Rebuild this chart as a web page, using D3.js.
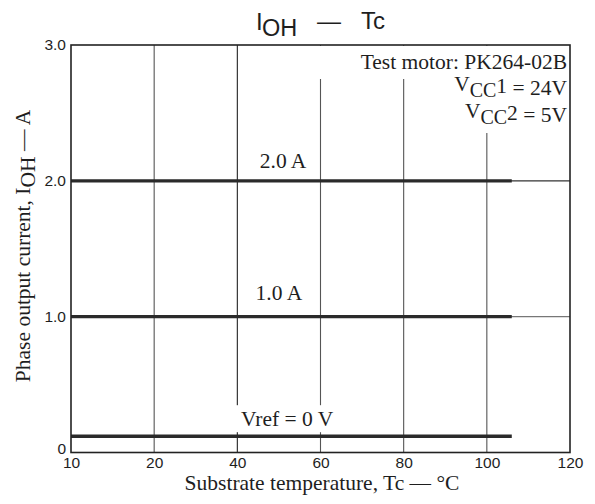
<!DOCTYPE html>
<html>
<head>
<meta charset="utf-8">
<script src="https://cdn.jsdelivr.net/npm/d3@7"></script>
<style>
  html, body { margin: 0; padding: 0; background: #fff; }
  svg { display: block; }
</style>
</head>
<body>
<div id="chart"></div>
<script>
// ---- data ----
const xTickValues = [10, 20, 40, 60, 80, 100, 120];
const xTickLabels = ["10", "20", "40", "60", "80", "100", "120"];
const yTickValues = [0, 1, 2, 3];
const yTickLabels = ["0", "1.0", "2.0", "3.0"];
const gridX = [20, 40, 60, 80, 100];
const gridY = [1, 2];
const seriesNames = ["2.0 A", "1.0 A", "Vref = 0 V"];
const seriesCurrent = [2.0, 1.0, 0.12];
const seriesTempStart = [10, 10, 10];
const seriesTempEnd = [106, 106, 106];
const labelTemp = [51, 50, 52];

(function () {
const W = 595, H = 504;
const pL = 71, pR = 570, pT = 45, pB = 452.5;

const svg = d3.select("#chart").append("svg")
  .attr("width", W).attr("height", H);

// x axis starts at "10" but is linear from 20 onward (as in the figure)
const x = d3.scaleLinear()
  .domain([10, 20, 120])
  .range([pL, pL + (pR - pL) / 6, pR]);
const y = d3.scaleLinear().domain([0, 3]).range([pB, pT]);

const serif = "'Liberation Serif','Times New Roman',serif";
const sans = "'Liberation Sans',Arial,Helvetica,sans-serif";
const ink = "#1e1e1e";
const fs = 21.5;

// grid lines
svg.append("g").selectAll("line").data(gridX).join("line")
  .attr("x1", d => x(d)).attr("x2", d => x(d))
  .attr("y1", pT).attr("y2", pB)
  .attr("stroke", d => (d === 40 ? "#222" : "#555")).attr("stroke-width", 1.1);
svg.append("g").selectAll("line").data(gridY).join("line")
  .attr("x1", pL).attr("x2", pR)
  .attr("y1", d => y(d)).attr("y2", d => y(d))
  .attr("stroke", d => d === 2 ? "#333" : "#777").attr("stroke-width", 1.2);

// white masks behind annotation block
svg.append("rect").attr("x", 300).attr("y", pT + 1)
  .attr("width", pR - 301).attr("height", 33).attr("fill", "#fff");
svg.append("rect").attr("x", 430).attr("y", pT + 33)
  .attr("width", pR - 431).attr("height", 55).attr("fill", "#fff");

// data lines
const series = seriesNames.map((n, i) => ({
  name: n, v: seriesCurrent[i], t0: seriesTempStart[i], t1: seriesTempEnd[i], lt: labelTemp[i]
}));
const line = d3.line().x(d => x(d[0])).y(d => y(d[1]));
svg.append("g").selectAll("path").data(series).join("path")
  .attr("d", d => line([[d.t0, d.v], [d.t1, d.v]]))
  .attr("fill", "none").attr("stroke", "#2a2a2a").attr("stroke-width", 3.4);

// series labels
const labOffset = [12.5, 16.5, 10];
const lab = svg.append("g").selectAll("g").data(series).join("g");
lab.filter(d => d.v < 0.5).append("rect")
  .attr("x", d => x(d.lt) - 55).attr("y", d => y(d.v) - 31)
  .attr("width", 110).attr("height", 27).attr("fill", "#fff");
lab.append("text")
  .attr("x", d => x(d.lt)).attr("y", (d, i) => y(d.v) - labOffset[i])
  .attr("text-anchor", "middle")
  .attr("font-family", serif).attr("font-size", fs).attr("fill", ink)
  .text(d => d.name);

// frame
svg.append("rect").attr("x", pL).attr("y", pT)
  .attr("width", pR - pL).attr("height", pB - pT)
  .attr("fill", "none").attr("stroke", "#222").attr("stroke-width", 1.6);

// axes (tick labels only)
const yAxis = d3.axisLeft(y).tickValues(yTickValues)
  .tickFormat((d, i) => yTickLabels[i]).tickSize(0).tickPadding(5);
const gy = svg.append("g").attr("transform", `translate(${pL},0)`).call(yAxis);
gy.select(".domain").remove();
gy.selectAll("text").attr("font-family", sans).attr("font-size", 15.5).attr("fill", ink)
  .attr("dy", d => d === 0 ? "0.05em" : "0.32em");

const xAxis = d3.axisBottom(x).tickValues(xTickValues)
  .tickFormat((d, i) => xTickLabels[i]).tickSize(0).tickPadding(3);
const gx = svg.append("g").attr("transform", `translate(0,${pB})`).call(xAxis);
gx.select(".domain").remove();
gx.selectAll("text").attr("font-family", sans).attr("font-size", 15.5).attr("fill", ink)
  .attr("dy", "0.78em");

// title
const title = svg.append("text").attr("font-family", sans).attr("fill", ink);
title.append("tspan").attr("x", 256).attr("y", 29.5).attr("font-size", 24).text("I");
title.append("tspan").attr("x", 262).attr("y", 36).attr("font-size", 23.5).text("OH");
title.append("tspan").attr("x", 317).attr("y", 28.5).attr("font-size", 24).text("\u2014");
title.append("tspan").attr("x", 361).attr("y", 28.5).attr("font-size", 24).text("Tc");

// annotation block
const ann = svg.append("g").attr("font-family", serif).attr("font-size", fs).attr("fill", ink)
  .attr("text-anchor", "end");
ann.append("text").attr("x", 567).attr("y", 69).text("Test motor: PK264-02B");
const v1 = ann.append("text").attr("x", 567).attr("y", 91);
v1.append("tspan").text("V");
v1.append("tspan").attr("dy", 6).attr("font-size", 20).text("CC");
v1.append("tspan").attr("dy", -4.5).text("1");
v1.append("tspan").attr("dy", 2.5).text(" = 24V");
const v2 = ann.append("text").attr("x", 567).attr("y", 118);
v2.append("tspan").text("V");
v2.append("tspan").attr("dy", 6).attr("font-size", 20).text("CC");
v2.append("tspan").attr("dy", -4.5).text("2");
v2.append("tspan").attr("dy", 2.5).text(" = 5V");

// axis titles
svg.append("text").attr("x", 322).attr("y", 490)
  .attr("text-anchor", "middle").attr("font-family", serif).attr("font-size", fs).attr("fill", ink)
  .text("Substrate temperature, Tc \u2014 \u00B0C");

const yt = svg.append("text")
  .attr("transform", "translate(30,246) rotate(-90)")
  .attr("text-anchor", "middle").attr("font-family", serif).attr("font-size", fs).attr("fill", ink);
yt.append("tspan").text("Phase output current, I");
yt.append("tspan").attr("dy", 5).text("OH");
yt.append("tspan").attr("dy", -5).text(" \u2014 A");
})();
</script>
</body>
</html>
